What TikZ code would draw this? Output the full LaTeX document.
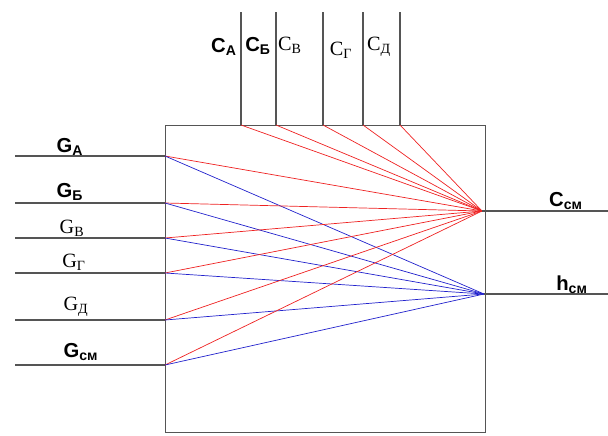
\documentclass[tikz,border=0pt]{standalone}
\usepackage{fontspec}
\setmainfont{Liberation Serif}
\setsansfont{Liberation Sans}
\usetikzlibrary{positioning}
\definecolor{wire}{HTML}{555555}
\definecolor{redln}{HTML}{EE2222}
\definecolor{blueln}{HTML}{2222CC}

\begin{document}
\begin{tikzpicture}[
    x=0.025cm, y=-0.025cm,
    every node/.style={inner sep=0pt},
    lbs/.style={font=\sffamily\bfseries\Large},
    lbr/.style={font=\rmfamily\Large},
    wirel/.style={draw=wire, line width=1pt},
    rl/.style={draw=redln, line width=0.5pt},
    bl/.style={draw=blueln, line width=0.5pt}
]
    \useasboundingbox (0,0) rectangle (608,436);
    % mixer box
    \node[draw=wire, line width=1pt, minimum width=320*0.025cm, minimum height=307*0.025cm, anchor=north west] (box) at (165,125) {};
    % hubs
    \coordinate (hc) at (482,211);
    \coordinate (hh) at (484,294);
    % top inputs: concentrations
    \foreach \n/\x in {a/241, b/276, v/323, g/363, d/400} {
        \coordinate (c\n) at (\x,125);
        \coordinate (c\n t) at (\x,12);
        \draw[wirel] (c\n t) -- (c\n);
        \draw[rl] (c\n) -- (hc);
    }
    % left inputs: flows
    \foreach \n/\y in {a/156, b/203, v/238, g/273, d/320, m/365} {
        \coordinate (g\n) at (165,\y);
        \coordinate (g\n s) at (15,\y);
        \draw[wirel] (g\n s) -- (g\n);
        \draw[rl] (g\n) -- (hc);
        \draw[bl] (g\n) -- (hh);
    }
    % outputs
    \coordinate (oc) at (608,211);
    \coordinate (oh) at (608,294);
    \draw[wirel] (hc) -- (oc);
    \draw[wirel] (hh) -- (oh);

    % labels
    \node[lbs, anchor=east] (lca) at (237,47) {C\textsubscript{А}};
    \node[lbs] (lcb) at (258,46) {C\textsubscript{Б}};
    \node[lbr] (lcv) at (290,45) {C\textsubscript{В}};
    \node[lbr] (lcg) at (341,50) {C\textsubscript{Г}};
    \node[lbr] (lcd) at (379,47) {C\textsubscript{Д}};
    \node[lbs] (lga) at (70,147) {G\textsubscript{А}};
    \node[lbs] (lgb) at (70,192) {G\textsubscript{Б}};
    \node[lbr] (lgv) at (72,228) {G\textsubscript{В}};
    \node[lbr] (lgg) at (74,262) {G\textsubscript{Г}};
    \node[lbr] (lgd) at (76,307) {G\textsubscript{Д}};
    \node[lbs] (lgm) at (81,352) {G\textsubscript{см}};
    \node[lbs] (lcm) at (566,201) {C\textsubscript{см}};
    \node[lbs] (lhm) at (572,285) {h\textsubscript{см}};
\end{tikzpicture}
\end{document}
